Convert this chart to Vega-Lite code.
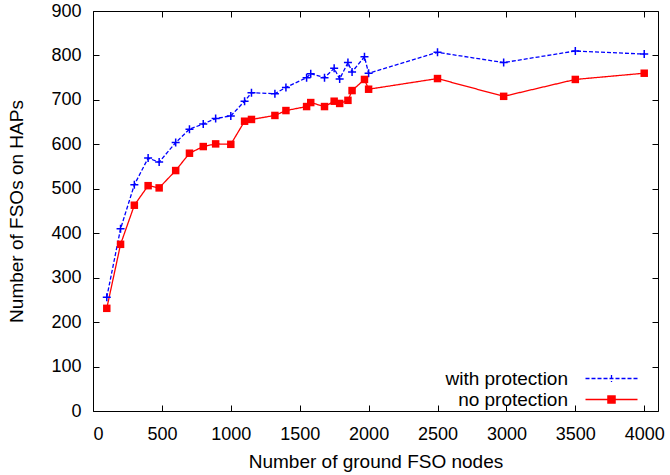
{
  "$schema": "https://vega.github.io/schema/vega-lite/v6.json",
  "width": 565,
  "height": 400,
  "autosize": "none",
  "padding": {"left": 93, "top": 11, "right": 12, "bottom": 64},
  "background": "white",
  "config": {
    "font": "Liberation Sans",
    "view": {"stroke": "black", "strokeWidth": 1},
    "axis": {"grid": false, "domainColor": "black", "tickColor": "black", "labelColor": "black", "titleColor": "black", "labelFont": "Liberation Sans", "titleFont": "Liberation Sans", "labelFontSize": 18, "titleFontSize": 19, "titleFontWeight": "normal", "format": "d"}
  },
  "data": {
    "values": [
      {"x": 100, "y": 256, "series": "with protection"},
      {"x": 200, "y": 410, "series": "with protection"},
      {"x": 300, "y": 509, "series": "with protection"},
      {"x": 400, "y": 569, "series": "with protection"},
      {"x": 480, "y": 560, "series": "with protection"},
      {"x": 600, "y": 604, "series": "with protection"},
      {"x": 700, "y": 634, "series": "with protection"},
      {"x": 800, "y": 646, "series": "with protection"},
      {"x": 890, "y": 658, "series": "with protection"},
      {"x": 1000, "y": 664, "series": "with protection"},
      {"x": 1100, "y": 697, "series": "with protection"},
      {"x": 1150, "y": 716, "series": "with protection"},
      {"x": 1320, "y": 714, "series": "with protection"},
      {"x": 1400, "y": 728, "series": "with protection"},
      {"x": 1550, "y": 750, "series": "with protection"},
      {"x": 1580, "y": 759, "series": "with protection"},
      {"x": 1680, "y": 750, "series": "with protection"},
      {"x": 1750, "y": 771, "series": "with protection"},
      {"x": 1790, "y": 747, "series": "with protection"},
      {"x": 1850, "y": 784, "series": "with protection"},
      {"x": 1880, "y": 763, "series": "with protection"},
      {"x": 1970, "y": 797, "series": "with protection"},
      {"x": 2000, "y": 760, "series": "with protection"},
      {"x": 2500, "y": 807, "series": "with protection"},
      {"x": 2980, "y": 784, "series": "with protection"},
      {"x": 3500, "y": 810, "series": "with protection"},
      {"x": 4000, "y": 803, "series": "with protection"},
      {"x": 100, "y": 231, "series": "no protection"},
      {"x": 200, "y": 375, "series": "no protection"},
      {"x": 300, "y": 463, "series": "no protection"},
      {"x": 400, "y": 507, "series": "no protection"},
      {"x": 480, "y": 502, "series": "no protection"},
      {"x": 600, "y": 541, "series": "no protection"},
      {"x": 700, "y": 580, "series": "no protection"},
      {"x": 800, "y": 595, "series": "no protection"},
      {"x": 890, "y": 601, "series": "no protection"},
      {"x": 1000, "y": 600, "series": "no protection"},
      {"x": 1100, "y": 652, "series": "no protection"},
      {"x": 1150, "y": 656, "series": "no protection"},
      {"x": 1320, "y": 665, "series": "no protection"},
      {"x": 1400, "y": 676, "series": "no protection"},
      {"x": 1550, "y": 685, "series": "no protection"},
      {"x": 1580, "y": 694, "series": "no protection"},
      {"x": 1680, "y": 685, "series": "no protection"},
      {"x": 1750, "y": 697, "series": "no protection"},
      {"x": 1790, "y": 692, "series": "no protection"},
      {"x": 1850, "y": 699, "series": "no protection"},
      {"x": 1880, "y": 721, "series": "no protection"},
      {"x": 1970, "y": 746, "series": "no protection"},
      {"x": 2000, "y": 724, "series": "no protection"},
      {"x": 2500, "y": 748, "series": "no protection"},
      {"x": 2980, "y": 708, "series": "no protection"},
      {"x": 3500, "y": 746, "series": "no protection"},
      {"x": 4000, "y": 760, "series": "no protection"}
    ]
  },
  "layer": [
    {
      "mark": {"type": "line", "strokeWidth": 1.3, "clip": true},
      "encoding": {
        "x": {"field": "x", "type": "quantitative", "scale": {"domain": [0, 4100], "nice": false, "zero": false},
              "axis": {"orient": "bottom", "title": "Number of ground FSO nodes", "values": [0, 500, 1000, 1500, 2000, 2500, 3000, 3500, 4000], "tickSize": -6, "labelPadding": 20, "titlePadding": 9, "domain": false}},
        "y": {"field": "y", "type": "quantitative", "scale": {"domain": [0, 900], "nice": false},
              "axis": {"orient": "left", "title": "Number of FSOs on HAPs", "values": [0, 100, 200, 300, 400, 500, 600, 700, 800, 900], "tickSize": -6, "labelPadding": 18, "titlePadding": 24, "domain": false}},
        "color": {"field": "series", "type": "nominal", "scale": {"domain": ["with protection", "no protection"], "range": ["#0000ff", "#ff0000"]},
                  "legend": {"orient": "none", "legendX": 509, "legendY": 358, "title": null, "labelAlign": "right", "labelOffset": -53, "labelFontSize": 19, "labelFont": "Liberation Sans", "labelColor": "black", "symbolSize": 64, "padding": 0, "rowPadding": 1,
                    "encode": {"symbols": {"update": {
                      "shape": {"signal": "datum.value === 'with protection' ? 'M-6.5,0H6.5M0,-0.9V0.9' : 'M-6.5,0H6.5M-0.9,-0.9H0.9V0.9H-0.9Z'"},
                      "fill": {"signal": "datum.value === 'with protection' ? 'transparent' : '#ff0000'"},
                      "stroke": {"signal": "datum.value === 'with protection' ? '#0000ff' : '#ff0000'"},
                      "strokeDash": {"signal": "datum.value === 'with protection' ? [4, 2] : [1, 0]"},
                      "strokeWidth": {"value": 1.3},
                      "opacity": {"value": 1}
                    }}}}},
        "strokeDash": {"field": "series", "type": "nominal", "scale": {"domain": ["with protection", "no protection"], "range": [[4, 2], [1, 0]]}, "legend": null}
      }
    },
    {
      "transform": [{"filter": "datum.series === 'with protection'"}],
      "mark": {"type": "point", "filled": false, "strokeWidth": 1.5, "opacity": 1, "size": 64, "shape": "M-1,0H1M0,-1V1", "color": "#0000ff"},
      "encoding": {
        "x": {"field": "x", "type": "quantitative",
              "axis": {"orient": "top", "title": null, "labels": false, "values": [0, 500, 1000, 1500, 2000, 2500, 3000, 3500, 4000], "tickSize": -6, "domain": false}},
        "y": {"field": "y", "type": "quantitative",
              "axis": {"orient": "right", "title": null, "labels": false, "values": [0, 100, 200, 300, 400, 500, 600, 700, 800, 900], "tickSize": -6, "domain": false}}
      }
    },
    {
      "transform": [{"filter": "datum.series === 'no protection'"}],
      "mark": {"type": "square", "filled": true, "opacity": 1, "size": 56, "color": "#ff0000"},
      "encoding": {
        "x": {"field": "x", "type": "quantitative", "axis": null},
        "y": {"field": "y", "type": "quantitative", "axis": null}
      }
    }
  ],
  "resolve": {"axis": {"x": "independent", "y": "independent"}}
}
